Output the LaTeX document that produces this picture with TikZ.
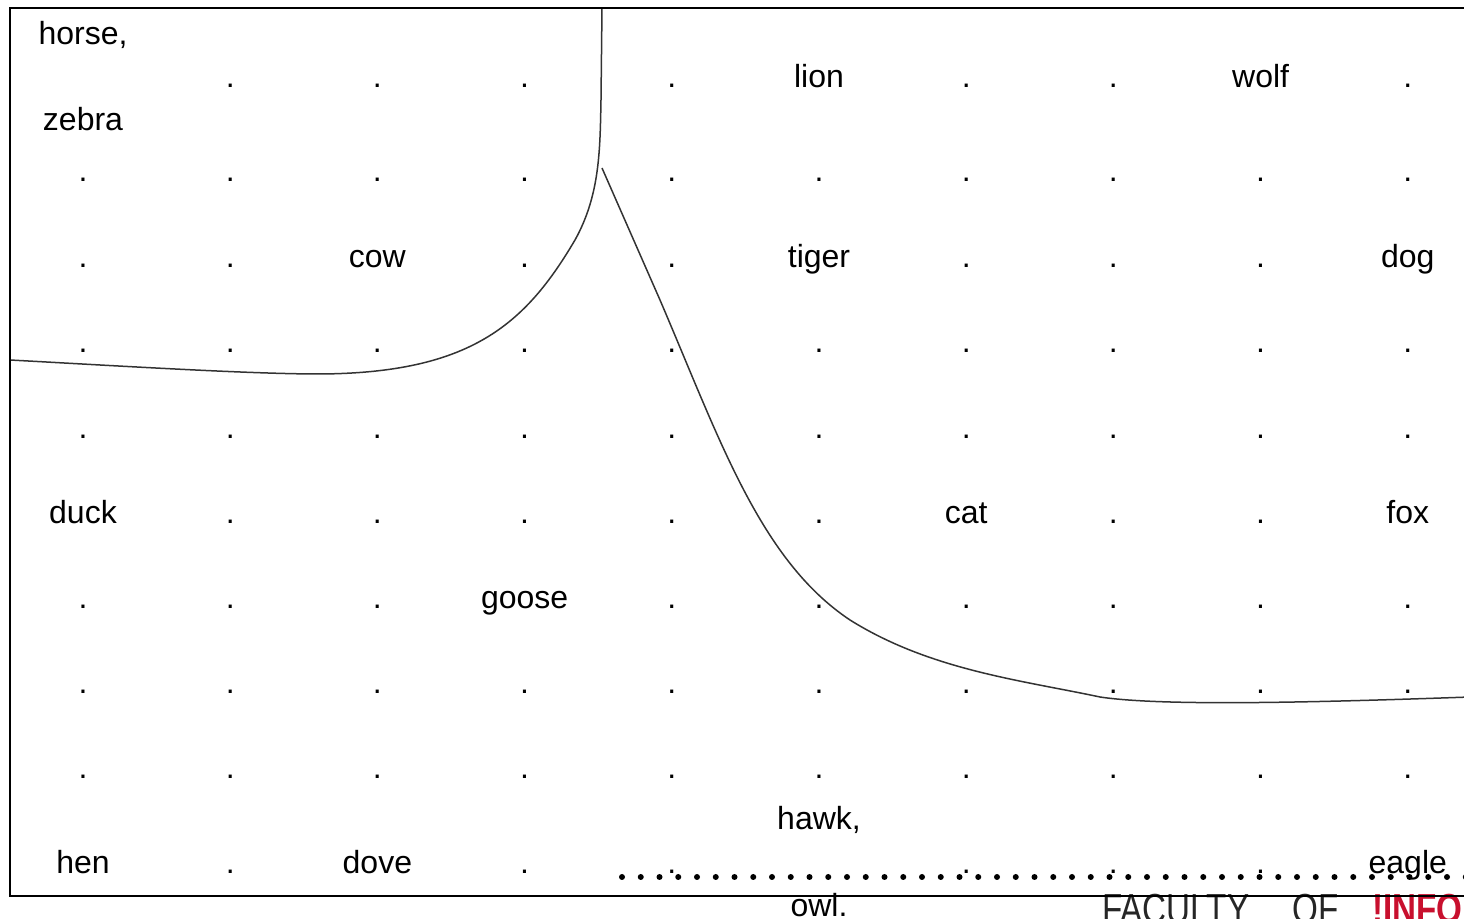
\documentclass[tikz,border=0pt]{standalone}
\usepackage{fontspec}
\setmainfont{Liberation Sans}
\definecolor{infored}{HTML}{C8102E}
\begin{document}
\begin{tikzpicture}[x=0.5pt,y=-0.5pt,
  lbl/.style={anchor=base, inner sep=0pt, font=\fontsize{16}{19}\selectfont},
  framestyle/.style={line width=1.2pt, draw=black},
  curvestyle/.style={line width=0.75pt, draw=black!80},
  logo/.style={anchor=base west, inner sep=0pt, xscale=0.79, font=\fontsize{21}{21}\selectfont}]
\useasboundingbox (0,0) rectangle (1464,919);
\clip (0,0) rectangle (1464,919);
% grid of words and dots
\node[lbl] (horse) at (83,45) {horse,};
\node[lbl] (zebra) at (83,131) {zebra};
\foreach \t [count=\c from 2] in {.,.,.,.,lion,.,.,wolf,.}
  \node[lbl] (r1c\c) at ({83+147.2*(\c-1)},88) {\t};
\foreach \t [count=\c] in {.,.,.,.,.,.,.,.,.,.}
  \node[lbl] (r2c\c) at ({83+147.2*(\c-1)},182) {\t};
\foreach \t [count=\c] in {.,.,cow,.,.,tiger,.,.,.,dog}
  \node[lbl] (r3c\c) at ({83+147.2*(\c-1)},268) {\t};
\foreach \t [count=\c] in {.,.,.,.,.,.,.,.,.,.}
  \node[lbl] (r4c\c) at ({83+147.2*(\c-1)},353) {\t};
\foreach \t [count=\c] in {.,.,.,.,.,.,.,.,.,.}
  \node[lbl] (r5c\c) at ({83+147.2*(\c-1)},439) {\t};
\foreach \t [count=\c] in {duck,.,.,.,.,.,cat,.,.,fox}
  \node[lbl] (r6c\c) at ({83+147.2*(\c-1)},524) {\t};
\foreach \t [count=\c] in {.,.,.,goose,.,.,.,.,.,.}
  \node[lbl] (r7c\c) at ({83+147.2*(\c-1)},609) {\t};
\foreach \t [count=\c] in {.,.,.,.,.,.,.,.,.,.}
  \node[lbl] (r8c\c) at ({83+147.2*(\c-1)},694) {\t};
\foreach \t [count=\c] in {.,.,.,.,.,.,.,.,.,.}
  \node[lbl] (r9c\c) at ({83+147.2*(\c-1)},779) {\t};
\foreach \t [count=\c] in {hen,.,dove,.,.}
  \node[lbl] (r10c\c) at ({83+147.2*(\c-1)},874) {\t};
\node[lbl] (hawk) at (819,830) {hawk,};
\node[lbl] (owl) at (819,916) {owl.};
\foreach \t [count=\c from 7] in {.,.,.,eagle}
  \node[lbl] (r10c\c) at ({83+147.2*(\c-1)},874) {\t};
% row of large dots
\foreach \k in {0,...,45}
  \fill ({622+18.75*\k},877) circle (3);
% logo
\node[logo, text=black!85] (fac) at (1102,923) {FACULTY};
\node[logo, text=black!85] (of) at (1292,923) {OF};
\node[logo, text=infored, font=\fontsize{21}{21}\selectfont\bfseries] (info) at (1372,923) {!INFO};
% curves
\draw[curvestyle] (10,360) .. controls (120,366) and (250,374) .. (320,374)
  .. controls (470,373) and (525,325) .. (575,240)
  .. controls (600,195) and (600,150) .. (601,100) -- (602,8);
\draw[curvestyle] (602,168) -- (660,300)
  .. controls (720,440) and (760,560) .. (850,620)
  .. controls (930,670) and (1020,680) .. (1100,697)
  .. controls (1160,706) and (1300,703) .. (1470,697);
% frame
\draw[framestyle] (1480,8) -- (10,8) -- (10,896) -- (1480,896);
\end{tikzpicture}
\end{document}
